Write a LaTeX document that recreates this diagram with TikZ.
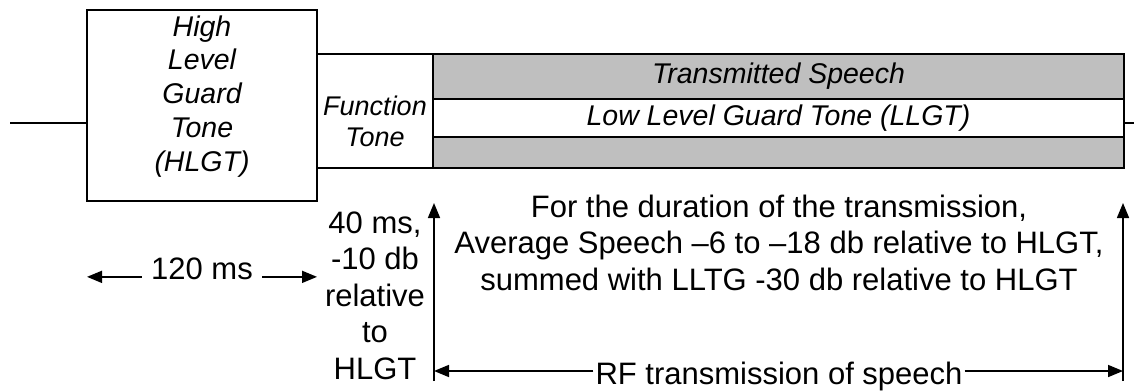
\documentclass[tikz,border=0pt]{standalone}
\usepackage{fontspec}
\setmainfont{Liberation Sans}
\usetikzlibrary{arrows.meta}
\begin{document}
\begin{tikzpicture}[x=1pt,y=-1pt,
  frame/.style={draw=black,line width=2pt,inner sep=0pt,outer sep=0pt},
  band/.style={frame,fill=black!25},
  wire/.style={line width=2pt},
  arr/.style={line width=1.6pt,-{Triangle[length=15pt,width=12pt]}},
  lab/.style={font=\fontsize{31}{36.5}\selectfont,inner sep=0pt,align=center},
  itl/.style={font=\fontsize{28.5}{33.75}\selectfont\itshape,inner sep=0pt,align=center}]
\useasboundingbox (0,0) rectangle (1134,391);

% signal blocks
\node[frame,minimum width=230pt,minimum height=191.5pt] (hlgt) at (202,105.25) {};
\node[frame,minimum width=116pt,minimum height=114pt] (ftone) at (375,111) {};
\node[band,minimum width=691pt,minimum height=114pt] (speech) at (778.5,111) {};
\node[frame,fill=white,minimum width=691pt,minimum height=38pt] (llgt) at (778.5,118) {};

% idle carrier before and after
\coordinate (lin) at (10,123);
\coordinate (rout) at (1134,123);
\draw[wire] (lin) -- (lin -| hlgt.west);
\draw[wire] (speech.east |- rout) -- (rout);

% block labels (multi-line nodes sit on the baseline of their last line)
\node[itl,anchor=base] (thlgt) at (202,171) {High\\Level\\Guard\\Tone\\(HLGT)};
\node[itl,font=\fontsize{27}{31}\selectfont\itshape,anchor=base] (tft) at (375,146) {Function\\Tone};
\node[itl,anchor=base] (tts) at (778.5,83) {Transmitted Speech};
\node[itl,anchor=base] (tll) at (778.5,125) {Low Level Guard Tone (LLGT)};

% timing annotations
\node[lab,anchor=base,inner xsep=9pt] (t120) at (202,279.5) {120 ms};
\draw[arr] (t120.mid west) -- (t120.mid west -| hlgt.west);
\draw[arr] (t120.mid east) -- (t120.mid east -| hlgt.east);

\node[lab,anchor=base] (t40) at (375,379) {40 ms,\\-10 db\\relative\\to\\HLGT};

\coordinate (lb) at (434,381);
\coordinate (lt) at (434,203);
\coordinate (rb) at (1123,381);
\coordinate (rt) at (1123,203);
\draw[arr] (lb) -- (lt);
\draw[arr] (rb) -- (rt);

\node[lab,anchor=base] (tdur) at (779,290) {For the duration of the transmission,\\Average Speech \textendash6 to \textendash18 db relative to HLGT,\\summed with LLTG -30 db relative to HLGT};

% span of the transmission
\coordinate (ay) at (0,371);
\node[lab,anchor=base,inner xsep=2pt] (trf) at (779,384) {RF transmission of speech};
\draw[arr] (trf.west |- ay) -- (lb |- ay);
\draw[arr] (trf.east |- ay) -- (rb |- ay);
\end{tikzpicture}
\end{document}
